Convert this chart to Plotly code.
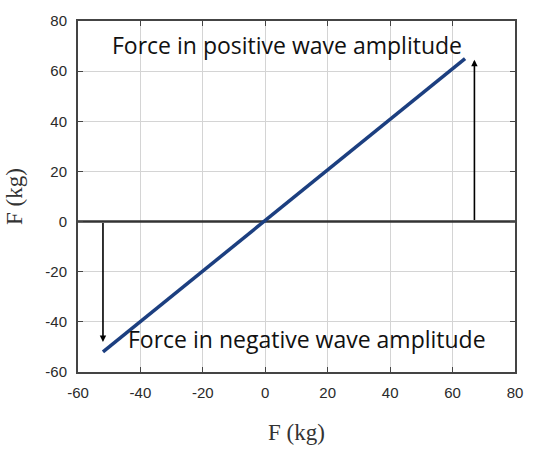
import plotly.graph_objects as go

# Data
line_x = [-52, 64]
line_y = [-52, 65]
zero_x = [-60, 80]
zero_y = [0, 0]
ticks = [-60, -40, -20, 0, 20, 40, 60, 80]
tick_text = ["-60", "-40", "-20", "0", "20", "40", "60", "80"]
pos_arrow = dict(x=67, y0=0, y1=64.5)
neg_arrow = dict(x=-52, y0=0, y1=-48)
pos_label = "Force in positive wave amplitude"
neg_label = "Force in negative wave amplitude"

fig = go.Figure()
fig.add_trace(go.Scatter(x=zero_x, y=zero_y, mode="lines",
                         line=dict(color="#333333", width=2.5), showlegend=False))
fig.add_trace(go.Scatter(x=line_x, y=line_y, mode="lines",
                         line=dict(color="#1c3f80", width=3.5), showlegend=False))

for a in (pos_arrow, neg_arrow):
    fig.add_annotation(x=a["x"], y=a["y1"], ax=a["x"], ay=a["y0"],
                       xref="x", yref="y", axref="x", ayref="y",
                       showarrow=True, arrowhead=2, arrowsize=0.8, arrowwidth=1.6,
                       arrowcolor="black", text="")

fig.add_annotation(x=7, y=70.5, xref="x", yref="y", text=pos_label, showarrow=False,
                   font=dict(family="Open Sans, sans-serif", size=23, color="#111111"))
fig.add_annotation(x=13.4, y=-47, xref="x", yref="y", text=neg_label, showarrow=False,
                   font=dict(family="Open Sans, sans-serif", size=23, color="#111111"))

axis_common = dict(
    tickvals=ticks, ticktext=tick_text, showgrid=True, gridcolor="#d4d4d4", gridwidth=1,
    showline=True, linecolor="#444444", linewidth=2, mirror="ticks",
    ticks="inside", ticklen=5, tickcolor="#444444", zeroline=False,
    tickfont=dict(family="Arial, Liberation Sans, sans-serif", size=15, color="#2a2a2a"),
    ticklabelstandoff=6,
    range=[-60, 80],
)
title_font = dict(family="Liberation Serif, Times New Roman, serif", size=23, color="#333333")
fig.update_xaxes(**axis_common, title=dict(text="F (kg)", font=title_font, standoff=24))
fig.update_yaxes(**axis_common, title=dict(text="F (kg)", font=title_font, standoff=16))

fig.update_layout(width=535, height=453, plot_bgcolor="white", paper_bgcolor="white",
                  margin=dict(l=78, r=15, t=14, b=77))
fig.write_html("out.html")
